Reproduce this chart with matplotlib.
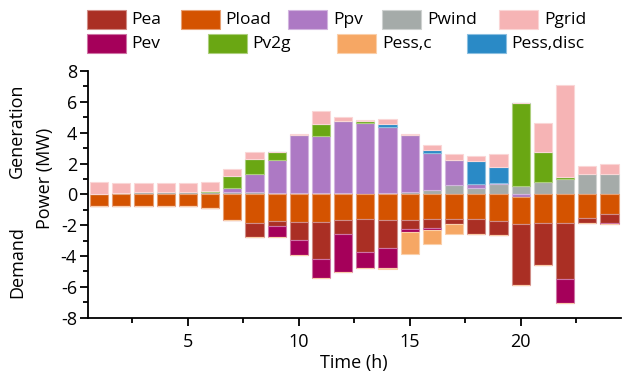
import matplotlib
matplotlib.use("Agg")
import matplotlib.pyplot as plt
from matplotlib.patches import Rectangle
from matplotlib.ticker import MultipleLocator
import matplotlib.colors as mcolors
import numpy as np

plt.rcParams['font.family'] = ['Open Sans', 'DejaVu Sans']
plt.rcParams['axes.unicode_minus'] = False

hours = list(range(1, 25))

Pwind = [0.05, 0.08, 0.12, 0.12, 0.12, 0.15, 0.15, 0.15, 0.10, 0.10, 0.10, 0.09,
         0.04, 0.09, 0.15, 0.28, 0.58, 0.41, 0.67, 0.54, 0.80, 1.02, 1.30, 1.30]
Ppv = [0, 0, 0, 0, 0, 0, 0.26, 1.17, 2.16, 3.74, 3.69, 4.67,
       4.60, 4.30, 3.67, 2.42, 1.64, 0.26, 0.04, -0.15, 0, 0, 0, 0]
Pv2g = [0, 0, 0, 0, 0, 0.05, 0.78, 0.99, 0.47, 0, 0.76, 0,
        0.09, 0, 0, 0, 0, 0, 0, 5.36, 1.94, 0.11, 0, 0]
Pess_disc = [0, 0, 0, 0, 0, 0, 0, 0, 0, 0, 0, 0,
             0, 0.15, 0, 0.15, 0, 1.49, 1.08, 0, 0, 0, 0, 0]
Pgrid = [0.73, 0.65, 0.61, 0.61, 0.61, 0.62, 0.45, 0.43, 0, 0.06, 0.86, 0.26,
         0.09, 0.35, 0.09, 0.32, 0.37, 0.35, 0.80, 0, 1.86, 5.94, 0.56, 0.65]
Pload = [-0.78, -0.78, -0.78, -0.73, -0.73, -0.86, -1.64, -1.84, -1.73, -1.79, -1.79, -1.66,
         -1.62, -1.66, -1.66, -1.62, -1.62, -1.62, -1.71, -1.79, -1.86, -1.86, -1.53, -1.27]
Pea = [0, 0, 0, 0, 0, 0, 0, -0.93, -0.30, -1.19, -2.40, -0.91,
       -2.10, -1.84, -0.58, -0.58, -0.30, -0.95, -0.91, -3.95, -2.74, -3.63, -0.35, -0.60]
Pev = [0, 0, 0, 0, 0, 0, 0, 0, -0.73, -0.95, -1.25, -2.48,
       -1.08, -1.30, -0.17, -0.09, 0, 0, 0, 0, 0, -1.58, 0, -0.06]
Pess_c = [0, 0, 0, 0, 0, 0, 0, 0, 0, 0, 0, 0,
          0, -0.06, -1.45, -0.93, -0.67, 0, 0, 0, 0, 0, 0, 0]

colors = {
    'Pea': '#AA2F24', 'Pload': '#D45300', 'Ppv': '#AD79C4', 'Pwind': '#A5ABA9',
    'Pgrid': '#F6B4B5', 'Pev': '#A5005A', 'Pv2g': '#6AA713', 'Pess,c': '#F6A764',
    'Pess,disc': '#2A8AC6'}

series = {'Pea': Pea, 'Pload': Pload, 'Ppv': Ppv, 'Pwind': Pwind, 'Pgrid': Pgrid,
          'Pev': Pev, 'Pv2g': Pv2g, 'Pess,c': Pess_c, 'Pess,disc': Pess_disc}
stack_order = ['Pwind', 'Ppv', 'Pload', 'Pea', 'Pv2g', 'Pev', 'Pess,disc', 'Pess,c', 'Pgrid']

def light(c, f=0.45):
    r, g, b = mcolors.to_rgb(c)
    return (r + (1 - r) * f, g + (1 - g) * f, b + (1 - b) * f)

W, H = 622, 376
fig = plt.figure(figsize=(W / 100, H / 100), dpi=100)
ax = fig.add_axes([88 / W, 1 - 317.7 / H, (620.6 - 88) / W, (317.7 - 71) / H])

x = np.array(hours)
pos = np.zeros(24)
neg = np.zeros(24)
for name in stack_order:
    v = np.array(series[name], dtype=float)
    p = np.where(v > 0, v, 0)
    n = np.where(v < 0, v, 0)
    if p.any():
        ax.bar(x, p, bottom=pos, width=0.82, color=colors[name],
               edgecolor=light(colors[name]), linewidth=0.8)
        pos += p
    if n.any():
        ax.bar(x, n, bottom=neg, width=0.82, color=colors[name],
               edgecolor=light(colors[name]), linewidth=0.8)
        neg += n

ax.set_xlim(0.5, 24.5)
ax.set_ylim(-8, 8)
ax.xaxis.set_major_locator(MultipleLocator(5))
ax.xaxis.set_minor_locator(MultipleLocator(2.5))
ax.yaxis.set_major_locator(MultipleLocator(2))
ax.yaxis.set_minor_locator(MultipleLocator(1))
for s in ['top', 'right']:
    ax.spines[s].set_visible(False)
for s in ['left', 'bottom']:
    ax.spines[s].set_linewidth(1.3)
ax.tick_params(which='major', direction='out', length=6, width=1.3, labelsize=13, pad=2)
ax.tick_params(axis='x', which='major', pad=5)
ax.tick_params(which='minor', direction='out', length=3.5, width=1.3)
ax.set_xlabel('Time (h)', fontsize=13, labelpad=2)

fig.text(45 / W, 1 - 178 / H, 'Power (MW)', rotation=90, ha='center', va='center', fontsize=13)
fig.text(17 / W, 1 - 131 / H, 'Generation', rotation=90, ha='center', va='center', fontsize=13)
fig.text(17 / W, 1 - 262 / H, 'Demand', rotation=90, ha='center', va='center', fontsize=13)

legend_items = [('Pea', 86.7, 10), ('Pload', 180.7, 10), ('Ppv', 288.3, 10),
                ('Pwind', 382.3, 10), ('Pgrid', 499.3, 10),
                ('Pev', 86.7, 34), ('Pv2g', 207.7, 34), ('Pess,c', 337.3, 34),
                ('Pess,disc', 466.7, 34)]
for name, lx, ly in legend_items:
    fig.add_artist(Rectangle((lx / W, 1 - (ly + 19) / H), 39 / W, 19 / H,
                             transform=fig.transFigure, facecolor=colors[name],
                             edgecolor=light(colors[name]), linewidth=0.8))
    fig.text((lx + 45) / W, 1 - (ly + 9.5) / H, name, ha='left', va='center', fontsize=12.5)

fig.savefig('out.png', dpi=100)
